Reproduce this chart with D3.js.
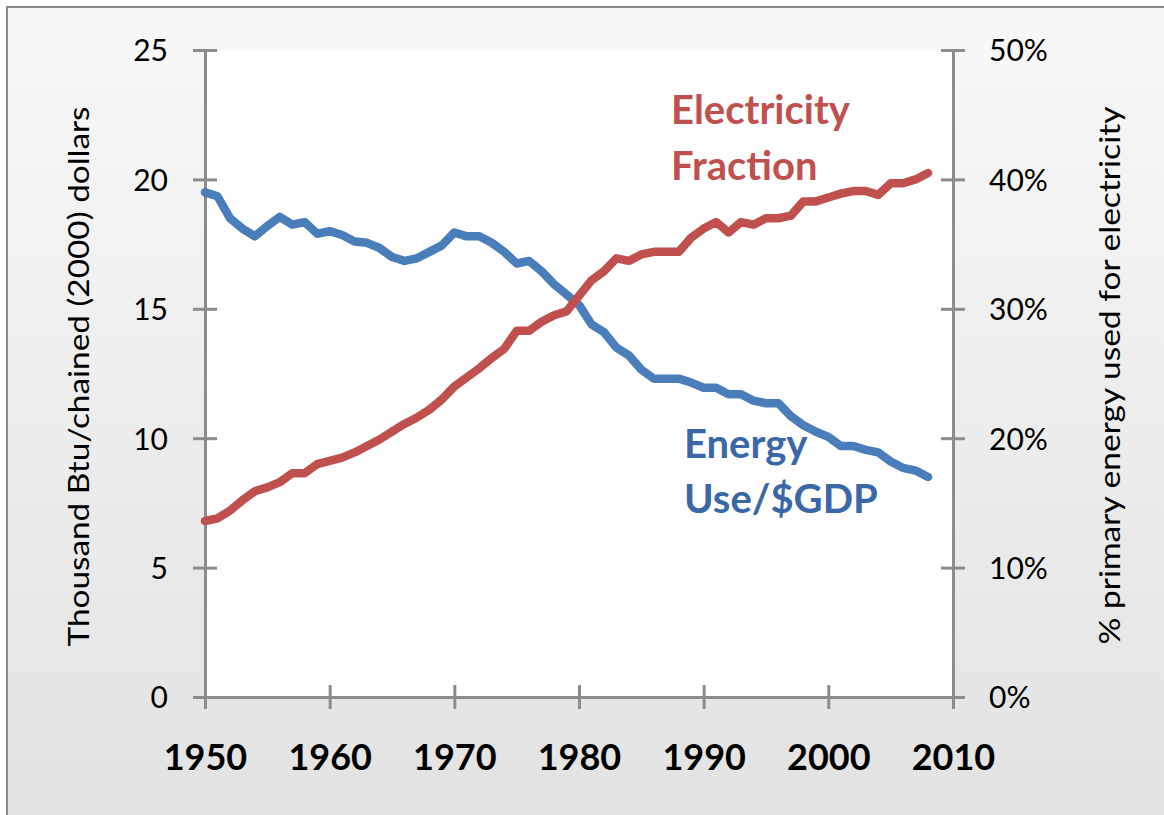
<!DOCTYPE html>
<html>
<head>
<meta charset="utf-8">
<script src="https://cdn.jsdelivr.net/npm/d3@7"></script>
<style>
  body { margin: 0; background: #fff; }
  text { font-family: Lato, "Open Sans", sans-serif; }
</style>
</head>
<body>
<div id="chart"></div>
<script>
// years 1950..2008
var years = d3.range(1950, 2009);

// thousand Btu per chained (2000) dollar
var energyPerGdp = [
  19.5, 19.35, 18.5, 18.1, 17.8, 18.2, 18.55, 18.25, 18.35, 17.9,
  18.0, 17.85, 17.6, 17.55, 17.35, 17.0, 16.85, 16.95, 17.2, 17.45,
  17.95, 17.8, 17.8, 17.55, 17.2, 16.75, 16.85, 16.45, 15.95, 15.55,
  15.15, 14.4, 14.1, 13.5, 13.2, 12.65, 12.3, 12.3, 12.3, 12.15,
  11.95, 11.95, 11.7, 11.7, 11.45, 11.35, 11.35, 10.85, 10.5, 10.25,
  10.05, 9.7, 9.7, 9.55, 9.45, 9.1, 8.85, 8.75, 8.5
];

// % of primary energy used for electricity
var electricityPct = [
  13.6, 13.8, 14.4, 15.2, 15.9, 16.2, 16.6, 17.3, 17.3, 18.0,
  18.25, 18.5, 18.9, 19.4, 19.9, 20.5, 21.1, 21.6, 22.2, 23.0,
  24.0, 24.7, 25.4, 26.2, 26.9, 28.3, 28.3, 29.0, 29.5, 29.8,
  31.0, 32.2, 32.9, 33.9, 33.7, 34.2, 34.4, 34.4, 34.4, 35.5,
  36.2, 36.7, 35.9, 36.7, 36.5, 37.0, 37.0, 37.2, 38.3, 38.3,
  38.6, 38.9, 39.1, 39.1, 38.8, 39.7, 39.7, 40.0, 40.5
];

var xTicks = [1950, 1960, 1970, 1980, 1990, 2000, 2010];
var leftTicks = [0, 5, 10, 15, 20, 25];
var rightTicks = [0, 10, 20, 30, 40, 50];

var W = 1164, H = 815;
var margin = { top: 50, right: 211, bottom: 118, left: 205 },
    width = W - margin.left - margin.right,
    height = H - margin.top - margin.bottom;

var svg = d3.select("#chart").append("svg")
    .attr("width", W)
    .attr("height", H);

// background gradient
var grad = svg.append("defs").append("linearGradient")
    .attr("id", "bg")
    .attr("x1", 0).attr("y1", 0).attr("x2", 0).attr("y2", 1);
grad.append("stop").attr("offset", "0%").attr("stop-color", "#f8f8f8");
grad.append("stop").attr("offset", "100%").attr("stop-color", "#e2e2e2");

svg.append("rect")
    .attr("x", 7).attr("y", 7)
    .attr("width", W + 10).attr("height", H + 10)
    .attr("fill", "url(#bg)")
    .attr("stroke", "#8a8a8a")
    .attr("stroke-width", 2);

var g = svg.append("g")
    .attr("transform", "translate(" + margin.left + "," + margin.top + ")");

g.append("rect")
    .attr("width", width)
    .attr("height", height)
    .attr("fill", "#fff");

var x = d3.scaleLinear().domain([1950, 2010]).range([0, width]);
var yL = d3.scaleLinear().domain([0, 25]).range([height, 0]);
var yR = d3.scaleLinear().domain([0, 50]).range([height, 0]);

var axisColor = "#8c8c8c";

// left axis (ticks cross the line)
var left = g.append("g")
    .call(d3.axisLeft(yL).tickValues(leftTicks).tickSize(12).tickPadding(25));
left.selectAll(".tick line").attr("x2", -12).attr("x1", 12);

var right = g.append("g")
    .attr("transform", "translate(" + width + ",0)")
    .call(d3.axisRight(yR).tickValues(rightTicks).tickSize(12).tickPadding(24)
        .tickFormat(function (d) { return d + "%"; }));
right.selectAll(".tick line").attr("x1", -12);

var bottom = g.append("g")
    .attr("transform", "translate(0," + height + ")")
    .call(d3.axisBottom(x).tickValues(xTicks).tickSize(12).tickPadding(35)
        .tickFormat(d3.format("d")));
bottom.selectAll(".tick line").attr("y1", -12);

[left, right, bottom].forEach(function (a) {
    a.select(".domain").attr("stroke", axisColor).attr("stroke-width", 3);
    a.selectAll(".tick line").attr("stroke", axisColor).attr("stroke-width", 3);
    a.selectAll(".tick text").attr("fill", "#000");
});
left.selectAll(".tick text").style("font-size", "30px").attr("dy", "0.36em");
right.selectAll(".tick text").style("font-size", "30px").attr("dy", "0.36em");
bottom.selectAll(".tick text").style("font-size", "36px").style("font-weight", "bold");

var lineL = d3.line()
    .x(function (d, i) { return x(years[i]); })
    .y(function (d) { return yL(d); });
var lineR = d3.line()
    .x(function (d, i) { return x(years[i]); })
    .y(function (d) { return yR(d); });

g.append("path")
    .datum(energyPerGdp)
    .attr("d", lineL)
    .attr("fill", "none")
    .attr("stroke", "#4a7ebb")
    .attr("stroke-width", 8.5)
    .attr("stroke-linejoin", "round")
    .attr("stroke-linecap", "round");

g.append("path")
    .datum(electricityPct)
    .attr("d", lineR)
    .attr("fill", "none")
    .attr("stroke", "#c0504d")
    .attr("stroke-width", 8.5)
    .attr("stroke-linejoin", "round")
    .attr("stroke-linecap", "round");

// series labels
var redLab = svg.append("text")
    .attr("fill", "#c0504d")
    .style("font-size", "40px")
    .style("font-weight", "bold");
redLab.append("tspan").attr("x", 671).attr("y", 124).text("Electricity");
redLab.append("tspan").attr("x", 671).attr("y", 180).text("Fraction");

var blueLab = svg.append("text")
    .attr("fill", "#3a68a6")
    .style("font-size", "40px")
    .style("font-weight", "bold");
blueLab.append("tspan").attr("x", 684).attr("y", 458).text("Energy");
blueLab.append("tspan").attr("x", 684).attr("y", 513).text("Use/$GDP");

// axis titles
svg.append("text")
    .attr("transform", "translate(89," + (margin.top + height / 2 + 3) + ") rotate(-90)")
    .attr("text-anchor", "middle")
    .attr("textLength", 540)
    .attr("lengthAdjust", "spacingAndGlyphs")
    .style("font-size", "29px")
    .text("Thousand Btu/chained (2000) dollars");

svg.append("text")
    .attr("transform", "translate(1120," + (margin.top + height / 2 + 2) + ") rotate(-90)")
    .attr("text-anchor", "middle")
    .attr("textLength", 538)
    .attr("lengthAdjust", "spacingAndGlyphs")
    .style("font-size", "29px")
    .text("% primary energy used for electricity");
</script>
</body>
</html>
